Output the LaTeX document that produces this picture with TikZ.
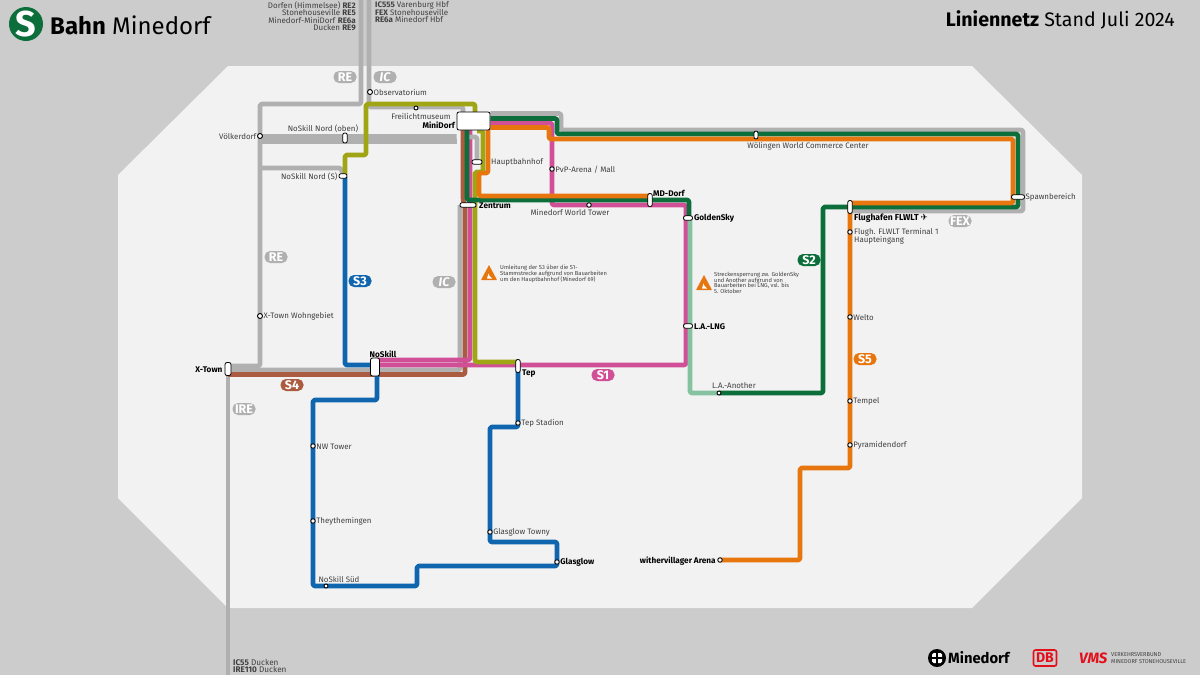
\documentclass[tikz,border=0pt]{standalone}
\usepackage{fontspec}
\setmainfont{Fira Sans}
\newfontfamily\symfont{DejaVu Sans}
\usetikzlibrary{arrows.meta,positioning,calc}
\pgfdeclarelayer{lines}
\pgfsetlayers{lines,main}
\lineskiplimit=-5pt
\definecolor{bgGrey}{HTML}{CCCCCC}
\definecolor{areaGrey}{HTML}{F2F2F2}
\definecolor{railGrey}{HTML}{B0B0B0}
\definecolor{txtGrey}{HTML}{404040}
\definecolor{colS1}{HTML}{D14F97}
\definecolor{colS2}{HTML}{0B6E3B}
\definecolor{colS3}{HTML}{0F66AE}
\definecolor{colS4}{HTML}{AB5B40}
\definecolor{colS5}{HTML}{E8760F}
\definecolor{colOlive}{HTML}{A0A516}
\definecolor{colMint}{HTML}{84C2A0}
\definecolor{colDB}{HTML}{E3101C}

\begin{document}
\begin{tikzpicture}[
    x=1pt, y=-1pt,
    every node/.style={font=\fontsize{7.9}{9}\selectfont, text=txtGrey, inner sep=0pt},
    every label/.style={font=\fontsize{7.9}{9}\selectfont, text=txtGrey, yshift=-0.7pt},
    label distance=1.5pt,
    stop/.style={circle, draw=black, fill=white, line width=0.9pt, minimum size=5pt},
    pill/.style={rectangle, draw=black, fill=white, line width=0.8pt, rounded corners=2pt},
    strong/.style={font=\fontsize{8.2}{9}\bfseries\selectfont, text=black},
    badge/.style={rectangle, rounded corners=5.5pt, minimum width=23pt, minimum height=12pt, text=white, font=\fontsize{12.5}{13}\bfseries\selectfont},
    rail/.style={line width=4.6pt, rounded corners=1.5pt, line join=round},
    route/.style={font=\fontsize{8}{7.3}\selectfont, align=left, text=txtGrey},
    notice/.style={font=\fontsize{5.75}{5.7}\selectfont, align=left, text=txtGrey}
]
    \useasboundingbox (0,0) rectangle (1200,675);

    % stations
    \node [pill, minimum width=33pt, minimum height=18pt] (minidorf) at (473.5,121) {};
    \node [strong, anchor=east] (minilabel) at (455,125) {MiniDorf};
    \node [stop, label={[label distance=0.5pt]right:Observatorium}] (observ) at (370,92) {};
    \node [stop, minimum size=4pt] (freilicht) at (416,108) {};
    \node [anchor=center] (freilabel) at (421,116) {Freilichtmuseum};
    \node [stop, label={[label distance=0.5pt]left:Völkerdorf}] (voelker) at (260,136) {};
    \node [pill, minimum width=4.5pt, minimum height=10pt] (nordoben) at (345,138) {};
    \node [anchor=center] (nordobenlabel) at (323,129) {NoSkill Nord (oben)};
    \node [pill, minimum width=8pt, minimum height=4.5pt, label={[label distance=1pt]left:NoSkill Nord (S)}] (nords) at (343,176) {};
    \node [stop, label={[label distance=0.5pt]right:X-Town Wohngebiet}] (wohn) at (260,316) {};
    \node [pill, minimum width=10pt, minimum height=4.5pt] (hbf) at (477,162) {};
    \node [anchor=west] (hbflabel) at (491,162) {Hauptbahnhof};
    \node [pill, minimum width=16pt, minimum height=4.5pt] (zentrum) at (468,205) {};
    \node [strong, anchor=west] (zentrumlabel) at (479,206) {Zentrum};
    \node [stop, minimum size=4.5pt, label={[label distance=0.5pt]right:PvP-Arena / Mall}] (pvp) at (552,169) {};
    \node [stop, minimum size=4.5pt] (tower) at (589,205) {};
    \node [anchor=center] (towerlabel) at (570,212) {Minedorf World Tower};
    \node [pill, minimum width=4.5pt, minimum height=13pt] (mddorf) at (650,200) {};
    \node [strong, anchor=west] (mdlabel) at (653,193) {MD-Dorf};
    \node [pill, minimum width=9pt, minimum height=4.5pt, label={[strong, label distance=1pt]right:GoldenSky}] (golden) at (688,218) {};
    \node [pill, minimum width=9pt, minimum height=4.5pt, label={[strong, label distance=1pt]right:L.A.-LNG}] (lng) at (688,326) {};
    \node [stop, minimum size=4pt] (another) at (719,393) {};
    \node [anchor=center] (anotherlabel) at (734,386) {L.A.-Another};
    \node [pill, minimum width=4pt, minimum height=8pt] (woelingen) at (756,135) {};
    \node [anchor=center] (woelabel) at (808,146) {Wölingen World Commerce Center};
    \node [pill, minimum width=13pt, minimum height=4.5pt, label={[label distance=0.5pt]right:Spawnbereich}] (spawn) at (1018,197) {};
    \node [pill, minimum width=4.5pt, minimum height=13pt] (airport) at (850,207) {};
    \node [strong, anchor=west, font=\fontsize{8.6}{9}\bfseries\selectfont] (airportlabel) at (854,218) {Flughafen FLWLT {\symfont ✈}};
    \node [stop, minimum size=4.5pt] (terminal) at (850,232) {};
    \node [anchor=north west, align=left, font=\fontsize{7.9}{8.5}\selectfont] (terminallabel) at (854,228) {Flugh. FLWLT Terminal 1\\Haupteingang};
    \node [stop, minimum size=4.5pt, label={[label distance=0.5pt]right:Welto}] (welto) at (850,317) {};
    \node [stop, minimum size=4.5pt, label={[label distance=0.5pt]right:Tempel}] (tempel) at (850,401) {};
    \node [stop, minimum size=4.5pt, label={[label distance=0.5pt]right:Pyramidendorf}] (pyramid) at (850,445) {};
    \node [stop, minimum size=4.5pt, label={[strong, label distance=1.5pt]left:withervillager Arena}] (arena) at (720,560) {};
    \node [pill, minimum width=6pt, minimum height=13pt, label={[strong, label distance=2pt]left:X-Town}] (xtown) at (228,369) {};
    \node [pill, minimum width=9pt, minimum height=18pt] (noskill) at (375,367) {};
    \node [strong, anchor=center] (noskilllabel) at (383,354) {NoSkill};
    \node [pill, minimum width=4.5pt, minimum height=13pt] (tep) at (518,366) {};
    \node [strong, anchor=west] (teplabel) at (522,374) {Tep};
    \node [stop, minimum size=4.5pt, label={[label distance=0.5pt]right:NW Tower}] (nwtower) at (313,446) {};
    \node [stop, minimum size=4.5pt, label={[label distance=0.5pt]right:Theythemingen}] (they) at (313,521) {};
    \node [stop, minimum size=4pt] (sued) at (326,586) {};
    \node [anchor=center] (suedlabel) at (339,579) {NoSkill Süd};
    \node [stop, minimum size=4.5pt, label={[label distance=0.5pt]right:Tep Stadion}] (tepstadion) at (518,423) {};
    \node [stop, minimum size=4.5pt, label={[label distance=0.5pt]right:Glasglow Towny}] (towny) at (490,532) {};
    \node [stop, minimum size=4.5pt, label={[strong, label distance=0.5pt]right:Glasglow}] (glasglow) at (557,562) {};

    % line names
    \node [badge, fill=railGrey] (badgeREa) at (345,77) {RE};
    \node [badge, fill=railGrey, font=\fontsize{12.5}{13}\bfseries\itshape\selectfont] (badgeICa) at (385,77) {IC};
    \node [badge, fill=railGrey] (badgeREb) at (276,257) {RE};
    \node [badge, fill=railGrey, font=\fontsize{12.5}{13}\bfseries\itshape\selectfont] (badgeICb) at (444,282) {IC};
    \node [badge, fill=railGrey] (badgeIRE) at (244,409) {IRE};
    \node [badge, fill=railGrey] (badgeFEX) at (960,221) {FEX};
    \node [badge, fill=colS3] (badgeSthree) at (360,281) {S3};
    \node [badge, fill=colS2] (badgeStwo) at (809,260) {S2};
    \node [badge, fill=colS5] (badgeSfive) at (865,359) {S5};
    \node [badge, fill=colS1] (badgeSone) at (603,375) {S1};
    \node [badge, fill=colS4] (badgeSfour) at (292,385) {S4};

    % routes at the edge
    \node [route, anchor=north east, align=right] (routesre) at (356,1.5) {Dorfen (Himmelsee) \textbf{RE2}\\Stonehouseville \textbf{RE5}\\Minedorf-MiniDorf \textbf{RE6a}\\Ducken \textbf{RE9}};
    \node [route, anchor=north west] (routesic) at (375,1.5) {\textbf{IC555} Varenburg Hbf\\\textbf{FEX} Stonehouseville\\\textbf{RE6a} Minedorf Hbf};
    \node [route, anchor=north west, font=\fontsize{8.2}{7.3}\selectfont] (routesire) at (233,659) {\textbf{IC55} Ducken\\\textbf{IRE110} Ducken};

    % notices
    \node [notice, anchor=north west] (noticea) at (500,265) {Umleitung der S3 über die S1-\\Stammstrecke aufgrund von Bauarbeiten\\um den Hauptbahnhof (Minedorf 69)};
    \node [notice, anchor=north west] (noticeb) at (714,272) {Streckensperrung zw. GoldenSky\\und Another aufgrund von\\Bauarbeiten bei LNG, vsl. bis\\5. Oktober};
    \fill [colS5, rounded corners=0.5pt] (481,280) -- (489,265) -- (497,280) -- cycle;
    \fill [white] (487,278.5) -- (488.5,273.5) -- (489.5,276) -- (492,278.5) -- cycle;
    \fill [colS5, rounded corners=0.5pt] (696,290) -- (704,275) -- (712,290) -- cycle;
    \fill [white] (702,288.5) -- (703.5,283.5) -- (704.5,286) -- (707,288.5) -- cycle;

    % title and logos
    \node [circle, fill=colS2, minimum size=34pt] (sbahn) at (26,24) {};
    \node [text=white, font=\fontsize{36}{36}\bfseries\selectfont] (sletter) at (sbahn) {S};
    \node [anchor=west, text=black, font=\fontsize{24}{26}\selectfont] (brand) at (50,25) {\textbf{Bahn} Minedorf};
    \node [anchor=east, text=black, font=\fontsize{19.6}{24}\selectfont] (netz) at (1175,20) {\textbf{Liniennetz} Stand Juli 2024};
    \node [circle, fill=black, minimum size=18pt] (minedisc) at (937,658) {};
    \fill [white, rounded corners=1.5pt] (932,653) rectangle (942,663);
    \draw [black, line width=1.2pt] (937,652) -- (937,664) (931,658) -- (943,658);
    \node [anchor=west, text=black, font=\fontsize{14.8}{15}\bfseries\selectfont] (minetext) at (948,658) {Minedorf};
    \node [draw=colDB, line width=1.6pt, rounded corners=2pt, minimum width=23pt, minimum height=16pt, text=colDB, font=\fontsize{14}{14}\bfseries\selectfont] (dblogo) at (1045,658) {DB};
    \node [anchor=west, text=colDB, font=\fontsize{15}{15}\bfseries\itshape\selectfont] (vmslogo) at (1079,658) {VMS};
    \node [anchor=west, align=left, font=\fontsize{5.6}{7}\selectfont] (vmstext) at (1111,658) {VERKEHRSVERBUND\\MINEDORF STONEHOUSEVILLE};

    \begin{pgfonlayer}{lines}
    \fill [bgGrey] (0,0) rectangle (1200,675);
    \fill [areaGrey] (228,66) -- (972,66) -- (1082,175) -- (1082,498) -- (972,608) -- (228,608) -- (118,498) -- (118,175) -- cycle;

    % RE and IC
    \draw [rail, railGrey] (361,0) -- (361,104) -- (260,104) -- (260,366) -- (xtown.center |- 0,366);
    \draw [rail, railGrey] (voelker.center) -- (260,136.5) -- (minidorf.west |- 0,136.5);
    \draw [rail, railGrey] (260,141.5) -- (minidorf.west |- 0,141.5);
    \draw [rail, railGrey] (260,168) -- (341,168) -- (nords.center);
    \draw [rail, railGrey] (369,0) -- (369,107) -- (463,107) -- (463,116);
    \draw [rail, railGrey] (xtown.center) -- (228,675);
    \draw [rail, railGrey] (xtown.center |- 0,370) -- (460,370) -- (460,205);
    \draw [rail, railGrey] (minidorf.east |- 0,113.5) -- (561,113.5) -- (561,130) -- (1023,130) -- (1023,211) -- (airport.center |- 0,211);

    % S4
    \draw [rail, colS4] (xtown.center |- 0,374.5) -- (465,374.5) -- (465,206) -- (463,200) -- (463,125);

    % S1
    \draw [rail, colS1] (noskill.center |- 0,360) -- (470,360) -- (470,125);
    \draw [rail, colS1] (noskill.center |- 0,365) -- (686,365) -- (686,205) -- (552,205) -- (552,123) -- (minidorf.east |- 0,123);

    % olive line
    \draw [rail, colOlive] (nords.center) -- (345,176) -- (345,155) -- (366,155) -- (366,104) -- (475,104) -- (475,116);
    \draw [rail, colOlive] (477,131) -- (483,131) -- (483,172) -- (475,172) -- (475,362) -- (tep.center |- 0,362);
    \draw [rail, railGrey] (465,137) -- (477,137) -- (hbf.center);

    % S2
    \draw [rail, colMint] (golden.center) -- (690,218) -- (690,393) -- (another.center);
    \draw [rail, colS2] (467,125) -- (467,200) -- (689,200) -- (689,218) -- (golden.center);
    \draw [rail, colS2] (minidorf.east |- 0,118.5) -- (557,118.5) -- (557,134) -- (1018,134) -- (1018,207) -- (823,207) -- (823,393) -- (another.center);

    % S5
    \draw [rail, colS5] (minidorf.east |- 0,127.5) -- (549,127.5) -- (549,139) -- (1013,139) -- (1013,203) -- (850,203) -- (850,468) -- (800,468) -- (800,560) -- (arena.center);
    \draw [rail, colS5] (484,126) -- (488,126) -- (488,173) -- (479,173) -- (479,196) -- (mddorf.center |- 0,196);

    % S3
    \draw [rail, colS3] (nords.center) -- (345,176) -- (345,365) -- (noskill.center |- 0,365);
    \draw [rail, colS3] (noskill.center) -- (377,367) -- (377,400) -- (313,400) -- (313,586) -- (417,586) -- (417,566) -- (557,566) -- (glasglow.center);
    \draw [rail, colS3] (tep.center) -- (518,427) -- (490,427) -- (490,542) -- (557,542) -- (glasglow.center);
    \end{pgfonlayer}
\end{tikzpicture}
\end{document}
